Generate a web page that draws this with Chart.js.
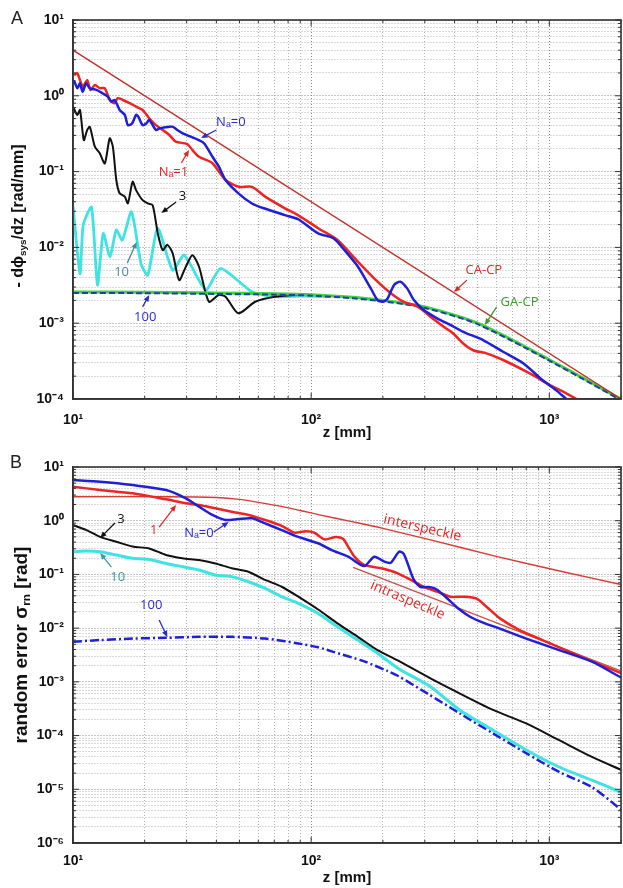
<!DOCTYPE html>
<html>
<head>
<meta charset="utf-8">
<script src="https://cdn.jsdelivr.net/npm/chart.js@4.4.1/dist/chart.umd.min.js"></script>
<style>
body { margin: 0; background: #fff; }
#page { position: relative; width: 623px; height: 888px; font-family: "Liberation Sans", Arial, sans-serif; overflow: hidden; }
.box { position: absolute; left: 0; width: 623px; }
.letter { position: absolute; font-size: 18px; color: #222; }
.ytitle { position: absolute; transform: translate(-50%, -50%) rotate(-90deg); white-space: nowrap; font-weight: bold; color: #111; line-height: 1; }
.ytitle sub { font-size: 0.62em; vertical-align: -0.25em; }
</style>
</head>
<body>
<div id="page">
  <div class="box" style="top:0;height:440px"><canvas id="chartA"></canvas></div>
  <div class="box" style="top:440px;height:448px"><canvas id="chartB"></canvas></div>
  <div class="letter" style="left:11px;top:8px">A</div>
  <div class="letter" style="left:10px;top:452px">B</div>
  <div class="ytitle" style="left:19px;top:216px;font-size:16px">- d&#981;<sub>sys</sub>/dz [rad/mm]</div>
  <div class="ytitle" style="left:21px;top:645px;font-size:19px">random error &#963;<sub>rn</sub> [rad]</div>
</div>
<script>
// ---- Panel A: systematic phase error slope ----
const aN0Z = [10.1, 10.42, 10.7, 10.97, 11.36, 11.77, 12.6, 13.3, 14.0, 14.5, 14.96, 15.7, 16.5, 17.0, 17.7, 18.4, 18.8, 19.6, 20.3, 20.9, 22.3, 23.1, 25.4, 26.3, 27.4, 28.9, 33.8, 35.5, 38.5, 41.0, 43.7, 49.5, 56.4, 63.3, 77.6, 88.3, 107, 124, 138, 157, 178, 190, 200, 209, 223, 237, 253, 270, 297, 338, 384, 435, 527, 640, 777, 935, 1067, 1178, 1250];
const aN0V = [1.61, 1.26, 1.46, 1.13, 1.46, 1.26, 1.19, 1.08, 0.975, 0.84, 0.88, 0.65, 0.56, 0.41, 0.43, 0.56, 0.53, 0.41, 0.43, 0.48, 0.354, 0.372, 0.39, 0.39, 0.354, 0.32, 0.26, 0.236, 0.157, 0.116, 0.0775, 0.0517, 0.038, 0.0328, 0.0267, 0.0235, 0.0153, 0.0132, 0.0092, 0.0056, 0.00288, 0.00202, 0.00192, 0.0021, 0.0032, 0.00353, 0.00288, 0.00202, 0.00149, 0.00116, 0.00095, 0.00077, 0.0006, 0.00042, 0.000296, 0.000178, 0.000131, 0.0001, 0.000085];

const aN1Z = [10.1, 10.42, 10.7, 11.0, 11.47, 11.85, 12.35, 12.96, 13.6, 14.26, 14.96, 15.4, 16.2, 17.3, 18.4, 19.6, 20.9, 22.3, 23.8, 25.4, 27.0, 30.2, 31.7, 33.8, 38.5, 43.7, 49.5, 56.4, 64.1, 77.6, 88, 107, 129, 157, 190, 216, 244, 280, 317, 360, 395, 435, 479, 545, 640, 828, 1006, 1178, 1300, 1400];
const aN1V = [1.88, 1.98, 1.61, 1.32, 1.61, 1.19, 1.39, 1.26, 1.26, 0.88, 0.80, 0.93, 0.88, 0.80, 0.72, 0.65, 0.505, 0.41, 0.354, 0.304, 0.248, 0.231, 0.193, 0.157, 0.129, 0.0775, 0.063, 0.063, 0.0467, 0.0328, 0.0267, 0.0179, 0.0125, 0.0065, 0.00353, 0.00248, 0.00192, 0.00165, 0.00122, 0.0009, 0.00073, 0.00054, 0.00044, 0.0004, 0.000327, 0.000218, 0.000153, 0.000119, 0.0001, 0.000085];

const aN3Z = [10, 10.42, 10.7, 11.1, 11.47, 11.77, 12.35, 12.96, 13.6, 14.26, 14.7, 15.2, 15.7, 16.5, 17.0, 17.8, 18.4, 19.6, 20.6, 21.6, 22.7, 23.8, 24.9, 26.2, 27.9, 29.8, 31.7, 33.8, 37.2, 40.9, 43.7, 49.5, 58.2, 70.6, 88.3, 110];
const aN3V = [0.72, 0.56, 0.65, 0.26, 0.354, 0.39, 0.213, 0.174, 0.128, 0.275, 0.213, 0.0775, 0.0517, 0.0467, 0.0381, 0.0736, 0.057, 0.042, 0.038, 0.036, 0.0153, 0.0092, 0.0108, 0.0084, 0.0037, 0.0056, 0.0079, 0.0056, 0.00192, 0.00236, 0.00224, 0.00135, 0.00192, 0.00224, 0.00236, 0.00236];

const aN10Z = [10, 10.7, 11.04, 11.96, 12.67, 13.4, 14.3, 15.2, 16.1, 17.6, 19.3, 20.6, 22.7, 26.2, 29.3, 36.1, 41.7, 56.4, 70.6, 90, 120];
const aN10V = [0.035, 0.0045, 0.0197, 0.034, 0.0032, 0.0153, 0.0075, 0.017, 0.0125, 0.0296, 0.0061, 0.0043, 0.0179, 0.005, 0.0079, 0.00274, 0.0053, 0.0026, 0.00224, 0.00228, 0.00225];

const aN100Z = [10, 20, 40, 70, 100, 150, 200, 250, 300, 400, 500, 700, 1000, 1500, 2000];
const aN100V = [0.0025, 0.00249, 0.00243, 0.00238, 0.00231, 0.00213, 0.00194, 0.00177, 0.00159, 0.00124, 0.00097, 0.00058, 0.00032, 0.00016, 0.000096];

const aGaZ = [10, 20, 40, 70, 100, 150, 200, 250, 300, 400, 500, 700, 1000, 1500, 2000];
const aGaV = [0.00258, 0.00256, 0.0025, 0.00245, 0.00238, 0.0022, 0.002, 0.00182, 0.00164, 0.00128, 0.001, 0.0006, 0.00033, 0.000165, 0.000099];

const aCaZ = [10, 2000];
const aCaV = [4.0, 0.0001];

// ---- Panel B: random error ----
const bN0Z = [10, 13, 17.8, 24.6, 29.8, 33.8, 38.5, 43.7, 49.5, 56.4, 64.1, 75.2, 88.3, 107, 122, 143, 167, 184, 203, 216, 234, 245, 270, 287, 317, 338, 372, 411, 465, 530, 604, 800, 1100, 1510, 2000];
const bN0V = [5.7, 5.3, 4.6, 3.73, 2.61, 1.83, 1.28, 1.03, 1.08, 1.11, 0.89, 0.67, 0.50, 0.38, 0.284, 0.214, 0.143, 0.214, 0.173, 0.165, 0.265, 0.24, 0.079, 0.059, 0.058, 0.052, 0.036, 0.024, 0.0163, 0.0125, 0.0102, 0.0064, 0.0039, 0.00237, 0.0012];

const bN1Z = [10, 13, 17.8, 24.6, 29.8, 33.8, 39.6, 46.4, 54.5, 64.1, 75.2, 85, 95, 103, 114, 127, 136, 143, 152, 167, 197, 231, 262, 297, 338, 384, 435, 495, 545, 620, 750, 935, 1100, 1420, 2000];
const bN1V = [4.3, 3.73, 3.24, 2.5, 2.11, 1.96, 1.70, 1.47, 1.28, 1.03, 0.80, 0.60, 0.64, 0.60, 0.45, 0.50, 0.46, 0.33, 0.214, 0.15, 0.13, 0.105, 0.079, 0.059, 0.0477, 0.0385, 0.0385, 0.0355, 0.025, 0.0152, 0.0092, 0.006, 0.0044, 0.0027, 0.00145];

const bN3Z = [10, 11.4, 13, 15.2, 17.8, 20.9, 24.6, 28.8, 33.8, 39.6, 46.4, 54.5, 64.1, 75.2, 88.3, 107, 129, 157, 190, 231, 317, 395, 580, 800, 1100, 1510, 2000];
const bN3V = [0.83, 0.67, 0.50, 0.406, 0.33, 0.305, 0.23, 0.20, 0.185, 0.16, 0.13, 0.112, 0.079, 0.059, 0.0385, 0.0222, 0.0123, 0.0069, 0.0039, 0.0025, 0.00116, 0.0007, 0.0003, 0.000169, 0.000082, 0.00004, 0.000023];

const bN10Z = [10, 11.4, 13, 15.2, 17.8, 20.9, 24.6, 28.8, 33.8, 39.6, 46.4, 54.5, 64.1, 75.2, 88.3, 107, 129, 157, 190, 231, 317, 420, 580, 800, 1100, 1510, 2000];
const bN10V = [0.265, 0.273, 0.265, 0.23, 0.2, 0.19, 0.16, 0.139, 0.121, 0.0975, 0.091, 0.073, 0.055, 0.0385, 0.0289, 0.0188, 0.0106, 0.006, 0.0034, 0.0018, 0.00081, 0.0003, 0.000126, 0.000054, 0.000026, 0.0000148, 0.0000088];

const bN100Z = [10, 13, 17.8, 24.6, 33.8, 46.4, 64.1, 88.3, 107, 122, 167, 209, 231, 307, 420, 580, 800, 1100, 1510, 2000];
const bN100V = [0.0056, 0.006, 0.0064, 0.0066, 0.0069, 0.0069, 0.0064, 0.0052, 0.0044, 0.0037, 0.0024, 0.0016, 0.0013, 0.00061, 0.00026, 0.00011, 0.000047, 0.000021, 0.000011, 0.0000042];

const bInterZ = [10, 25, 40, 50, 60, 75, 90, 107, 150, 200, 317, 604, 1140, 2000];
const bInterV = [2.8, 2.8, 2.7, 2.5, 2.2, 1.85, 1.55, 1.3, 0.95, 0.72, 0.44, 0.215, 0.112, 0.065];

const bIntraZ = [150, 2000];
const bIntraV = [0.135, 0.0016];

// ---- axes ----
const zTicks = [10, 20, 30, 40, 50, 60, 70, 80, 90, 100, 200, 300, 400, 500, 600, 700, 800, 900, 1000, 2000];
const aYTicks = [];
for (let e = -4; e <= 0; e++) {
    for (let m = 1; m <= 9; m++) aYTicks.push(m * Math.pow(10, e));
}
aYTicks.push(10);
const bYTicks = [];
for (let e = -6; e <= 0; e++) {
    for (let m = 1; m <= 9; m++) bYTicks.push(m * Math.pow(10, e));
}
bYTicks.push(10);

const SUP = {'-': '\u207B', '0': '\u2070', '1': '\u00B9', '2': '\u00B2', '3': '\u00B3', '4': '\u2074', '5': '\u2075', '6': '\u2076', '7': '\u2077', '8': '\u2078', '9': '\u2079'};

function isDecade(v) {
    const l = Math.log10(v);
    return Math.abs(l - Math.round(l)) < 1e-6;
}

function decadeLabel(v) {
    if (!isDecade(v)) return '';
    return '10' + String(Math.round(Math.log10(v))).split('').map(c => SUP[c]).join('');
}

function pts(zs, vs) {
    return zs.map((z, i) => ({x: z, y: vs[i]}));
}

function line(label, zs, vs, color, width, extra) {
    return Object.assign({
        label: label,
        data: pts(zs, vs),
        borderColor: color,
        borderWidth: width,
        showLine: true,
        pointRadius: 0,
        tension: 0.25,
        fill: false,
    }, extra || {});
}

// Box round the plot and small inward tick marks, like the original figure.
const frame = {
    id: 'frame',
    afterDraw(chart) {
        const {ctx, chartArea: a, scales: {x, y}} = chart;
        ctx.save();
        ctx.strokeStyle = '#333';
        ctx.lineWidth = 1;
        ctx.beginPath();
        for (const t of x.ticks) {
            const px = x.getPixelForValue(t.value);
            const len = isDecade(t.value) ? 6 : 3;
            ctx.moveTo(px, a.bottom); ctx.lineTo(px, a.bottom - len);
            ctx.moveTo(px, a.top); ctx.lineTo(px, a.top + len);
        }
        for (const t of y.ticks) {
            const py = y.getPixelForValue(t.value);
            const len = isDecade(t.value) ? 6 : 3;
            ctx.moveTo(a.left, py); ctx.lineTo(a.left + len, py);
            ctx.moveTo(a.right, py); ctx.lineTo(a.right - len, py);
        }
        ctx.stroke();
        ctx.lineWidth = 1.6;
        ctx.strokeRect(a.left, a.top, a.right - a.left, a.bottom - a.top);
        ctx.restore();
    }
};

// Curve labels with small arrows, placed in data coordinates.
function makeNotes(notes) {
    return {
        id: 'notes',
        afterDatasetsDraw(chart) {
            const {ctx, scales: {x, y}} = chart;
            ctx.save();
            for (const n of notes) {
                ctx.fillStyle = n.color;
                ctx.strokeStyle = n.color;
                if (n.from) {
                    const x0 = x.getPixelForValue(n.from[0]), y0 = y.getPixelForValue(n.from[1]);
                    const x1 = x.getPixelForValue(n.to[0]), y1 = y.getPixelForValue(n.to[1]);
                    const ang = Math.atan2(y1 - y0, x1 - x0);
                    ctx.lineWidth = 1.3;
                    ctx.beginPath();
                    ctx.moveTo(x0, y0);
                    ctx.lineTo(x1 - 4 * Math.cos(ang), y1 - 4 * Math.sin(ang));
                    ctx.stroke();
                    ctx.beginPath();
                    ctx.moveTo(x1, y1);
                    ctx.lineTo(x1 - 7 * Math.cos(ang - 0.4), y1 - 7 * Math.sin(ang - 0.4));
                    ctx.lineTo(x1 - 7 * Math.cos(ang + 0.4), y1 - 7 * Math.sin(ang + 0.4));
                    ctx.closePath();
                    ctx.fill();
                }
                const tx = x.getPixelForValue(n.at[0]), ty = y.getPixelForValue(n.at[1]);
                ctx.font = (n.size || 13) + 'px "Open Sans", "Liberation Sans", sans-serif';
                ctx.textAlign = 'center';
                ctx.textBaseline = 'middle';
                ctx.save();
                ctx.translate(tx, ty);
                ctx.rotate((n.angle || 0) * Math.PI / 180);
                ctx.fillText(n.text, 0, 0);
                ctx.restore();
            }
            ctx.restore();
        }
    };
}

const BLUE = '#1f1fd8', RED = '#ee2424', CYAN = '#3fe3e3';

const notesA = [
    {text: 'N\u2090=0', at: [46, 0.45], color: '#2b2bc8', from: [40, 0.354], to: [34.5, 0.277]},
    {text: 'N\u2090=1', at: [26.4, 0.099], color: '#e02828', from: [28.5, 0.13], to: [30.7, 0.193]},
    {text: '3', at: [28.8, 0.047], color: '#111', from: [27.1, 0.0397], to: [23.5, 0.0284]},
    {text: '10', at: [16, 0.0047], color: '#4a8aa0', from: [16.9, 0.0062], to: [18.5, 0.0118]},
    {text: '100', at: [20.1, 0.0012], color: '#2b2bc8', from: [19.6, 0.00164], to: [20.9, 0.00236]},
    {text: 'CA-CP', at: [531, 0.005], color: '#e02828', from: [451, 0.0037], to: [398, 0.00258]},
    {text: 'GA-CP', at: [750, 0.0019], color: '#3a9a2a', from: [601, 0.00164], to: [536, 0.00095]},
];

const notesB = [
    {text: '3', at: [15.9, 1.05], color: '#111', from: [15, 0.906], to: [13, 0.477]},
    {text: '1', at: [21.8, 0.67], color: '#e02828', from: [23, 0.76], to: [27.1, 1.96]},
    {text: 'N\u2090=0', at: [33.8, 0.59], color: '#2b2bc8', from: [39, 0.616], to: [45, 0.946]},
    {text: '10', at: [15.4, 0.0896], color: '#3a9aaa', from: [14.5, 0.137], to: [13, 0.25]},
    {text: '100', at: [21.3, 0.027], color: '#2b2bc8', from: [23, 0.0142], to: [24.9, 0.0068]},
    {text: 'interspeckle', at: [293, 0.73], color: '#e02828', angle: 13, size: 14},
    {text: 'intraspeckle', at: [254, 0.0333], color: '#e02828', angle: 23, size: 14},
];

const tickFont = {family: '"Liberation Sans", Arial, sans-serif', size: 14, weight: 'bold'};

function gridColor(ctx) {
    return ctx.tick && isDecade(ctx.tick.value) ? '#888' : '#b4b4b4';
}

function build(id, datasets, yMin, yMax, yTicks, notes, lay) {
    return new Chart(document.getElementById(id), {
        type: 'scatter',
        data: {datasets: datasets},
        options: {
            animation: false,
            responsive: true,
            maintainAspectRatio: false,
            devicePixelRatio: 1,
            layout: {padding: {top: lay.top, right: 2, left: 0, bottom: 0}},
            plugins: {legend: {display: false}, tooltip: {enabled: false}},
            scales: {
                x: {
                    type: 'logarithmic',
                    min: 10,
                    max: 2000,
                    afterBuildTicks: s => { s.ticks = zTicks.map(v => ({value: v})); },
                    // fixed axis height, and no room kept for the (empty) end labels
                    afterFit: s => { s.height = lay.xh; s.paddingLeft = 0; s.paddingRight = 0; },
                    ticks: {autoSkip: false, maxRotation: 0, padding: lay.xpad, color: '#111', font: tickFont, callback: decadeLabel},
                    grid: {color: gridColor, lineWidth: 1, drawTicks: false},
                    border: {color: '#333', width: 1.5, dash: [1, 2]},
                    title: {display: true, text: 'z [mm]', color: '#111', padding: {top: 0, bottom: lay.tpad},
                        font: {family: '"Liberation Sans", Arial, sans-serif', size: 15, weight: 'bold', lineHeight: 1}},
                },
                y: {
                    type: 'logarithmic',
                    min: yMin,
                    max: yMax,
                    afterBuildTicks: s => { s.ticks = yTicks.map(v => ({value: v})); },
                    afterFit: s => { s.width = 73; },
                    ticks: {autoSkip: false, padding: 9, color: '#111', font: tickFont, callback: decadeLabel},
                    grid: {color: gridColor, lineWidth: 1, drawTicks: false},
                    border: {color: '#333', width: 1.5, dash: [1, 2]},
                }
            }
        },
        plugins: [frame, makeNotes(notes)]
    });
}

build('chartA', [
    line('Na=0', aN0Z, aN0V, BLUE, 2.5),
    line('Na=1', aN1Z, aN1V, RED, 2.5),
    line('CA-CP', aCaZ, aCaV, '#c22f2a', 1.4, {tension: 0}),
    line('100', aN100Z, aN100V, '#23409c', 2, {borderDash: [6, 3]}),
    line('GA-CP', aGaZ, aGaV, '#3fd23f', 3),
    line('3', aN3Z, aN3V, '#111', 2),
    line('10', aN10Z, aN10V, CYAN, 2.8, {tension: 0.2}),
], 1e-4, 10, aYTicks, notesA, {top: 20, xh: 41, xpad: 13, tpad: 0});

build('chartB', [
    line('Na=0', bN0Z, bN0V, BLUE, 2.5),
    line('Na=1', bN1Z, bN1V, RED, 2.5),
    line('interspeckle', bInterZ, bInterV, '#d83a34', 1.4),
    line('intraspeckle', bIntraZ, bIntraV, '#c2524a', 1.4, {tension: 0}),
    line('3', bN3Z, bN3V, '#111', 2),
    line('10', bN10Z, bN10V, CYAN, 3),
    line('100', bN100Z, bN100V, BLUE, 2.5, {borderDash: [9, 3, 2, 3]}),
], 1e-6, 10, bYTicks, notesB, {top: 27, xh: 45, xpad: 10, tpad: 3});
</script>
</body>
</html>
